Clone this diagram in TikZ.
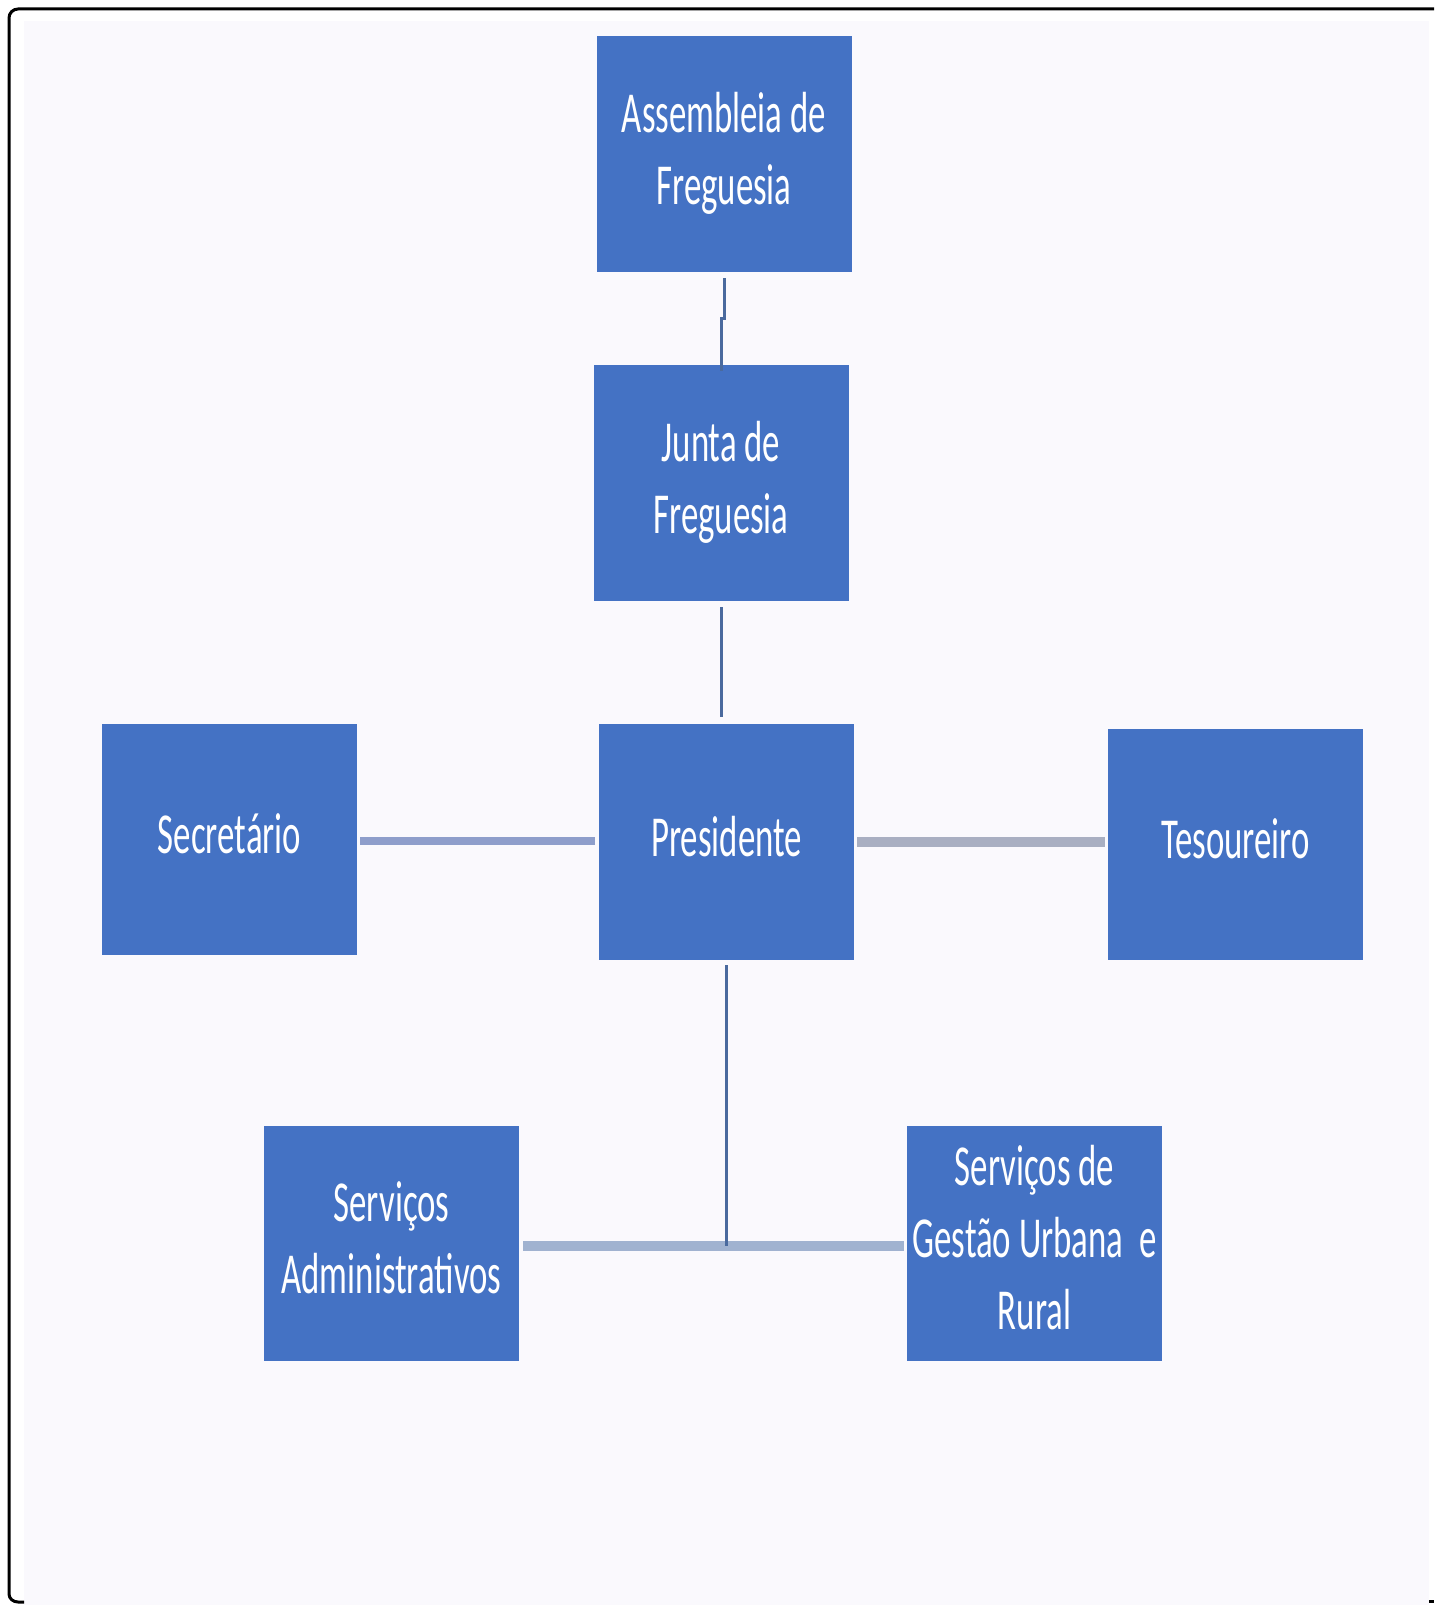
\documentclass[tikz,border=0pt]{standalone}
\usepackage{fontspec}
\usepackage{xcolor}
\usepackage{tikz}
\usetikzlibrary{positioning}
\newfontfamily\orgfont[FakeStretch=0.6]{Carlito}
\definecolor{boxblue}{HTML}{4472C4}
\definecolor{pagebg}{HTML}{FAF9FD}
\definecolor{linkdark}{HTML}{4A6A9E}
\definecolor{linksec}{HTML}{8E9ECB}
\definecolor{linktes}{HTML}{A9AFC2}
\definecolor{linkbot}{HTML}{A0B2D0}
\newcommand{\orgstrut}{\rule[-10.8pt]{0pt}{36pt}}
\newcommand{\orgdepth}{\rule[-6pt]{0pt}{6pt}}

\begin{document}
\begin{tikzpicture}[x=0.5pt,y=-0.5pt,
  orgbox/.style={fill=boxblue,text=white,inner sep=0pt,minimum width=127.5pt,
    minimum height=118pt,align=center,font=\orgfont\fontsize{29}{36}\selectfont},
  oneline/.style={orgbox,execute at begin node=\orgstrut,execute at end node=\orgstrut},
  multiline/.style={orgbox,execute at end node=\orgdepth},
  thinlink/.style={linkdark,line width=1.5pt},
  widelink/.style={line width=5pt}]
  \useasboundingbox (0,0) rectangle (1434,1605);
  % Page and frame
  \fill[white] (0,0) rectangle (1434,1605);
  \fill[pagebg] (24,21) rectangle (1429,1605);
  \draw[line width=1.5pt] (1434,9) -- (18,9) to[out=180,in=90] (9,18)
    -- (9,1594) to[out=-90,in=180] (18,1602) -- (24,1602);
  \draw[line width=1.5pt] (1429,1601) -- (1434,1601);
  % Boxes
  \node[multiline] (asm) at (724,154) {Assembleia de\\Freguesia};
  \node[multiline] (jun) at (721,483) {Junta de\\Freguesia};
  \node[oneline] (pre) at (726.5,842) {Presidente};
  \node[oneline,minimum height=115.5pt] (sec) at (229.5,839.5) {Secretário};
  \node[oneline,minimum height=115.5pt] (tes) at (1235.5,844.5) {Tesoureiro};
  \node[multiline,minimum height=117.5pt] (adm) at (391.5,1243.5) {Serviços\\Administrativos};
  \node[multiline,minimum height=117.5pt] (ges) at (1034.5,1243.5) {Serviços de\\Gestão Urbana\ \ e\\Rural};
  % Links
  \coordinate (aj) at (724,318);
  \draw[thinlink,shorten <=3pt] (asm.south) -- (aj) -| ([yshift=-3pt]jun.north);
  \draw[thinlink,shorten <=3pt,shorten >=3.5pt] (jun.south) -- (jun.south |- pre.north);
  \draw[widelink,linksec,line width=4pt,shorten <=1.5pt,shorten >=2pt]
    ([yshift=-0.5pt]sec.east) -- ([yshift=-0.5pt]sec.east -| pre.west);
  \draw[widelink,linktes,shorten <=1.5pt,shorten >=1.5pt] (pre.east) -- (pre.east -| tes.west);
  \coordinate (jn) at (pre.south |- 0,1246);
  \draw[widelink,linkbot,shorten <=2pt,shorten >=1.5pt]
    ([yshift=-1.25pt]adm.east) -- ([yshift=-1.25pt]ges.west);
  \draw[thinlink,shorten <=2.5pt] (pre.south) -- (jn);
\end{tikzpicture}
\end{document}
